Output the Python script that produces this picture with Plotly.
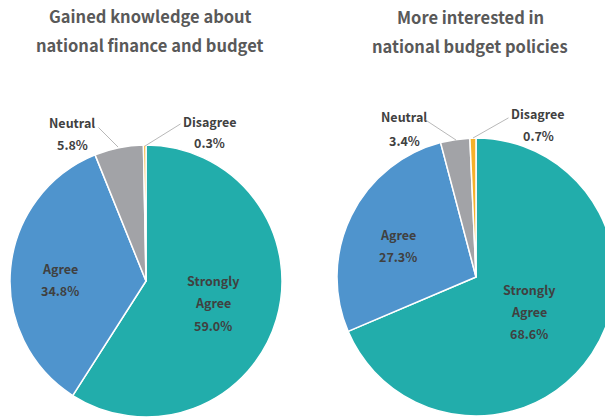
import plotly.graph_objects as go

W, H = 620, 418

categories = ["Strongly Agree", "Agree", "Neutral", "Disagree"]
left_values = [59.0, 34.8, 5.8, 0.3]
right_values = [68.6, 27.3, 3.4, 0.7]
left_title = ["Gained knowledge about", "national finance and budget"]
right_title = ["More interested in", "national budget policies"]
colors = ["#22ADAB", "#4F94CD", "#A2A3A7", "#F6B12A"]

FONT = "Noto Sans CJK KR"
TXT = "#404040"
TITLE_C = "#595959"


def px(x):
    return x / W


def py(y):
    return 1 - y / H


def dom(cx, cy, r):
    return dict(x=[px(cx - r), px(cx + r)], y=[py(cy + r), py(cy - r)])


fig = go.Figure()
for vals, (cx, cy, r) in [(left_values, (146, 281, 136)), (right_values, (476, 277, 139))]:
    fig.add_trace(go.Pie(
        labels=categories, values=vals, sort=False, direction="clockwise",
        rotation=0, textinfo="none", hoverinfo="label+percent",
        marker=dict(colors=colors, line=dict(color="white", width=1.5)),
        domain=dom(cx, cy, r), showlegend=False,
    ))

ann = []


def text(x, y, s, size=12.5, color=TXT):
    ann.append(dict(x=px(x), y=py(y), xref="paper", yref="paper", text="<b>%s</b>" % s,
                    showarrow=False, xanchor="center", yanchor="middle",
                    font=dict(family=FONT, size=size, color=color)))


def leader(x0, y0, x1, y1):
    ann.append(dict(x=px(x1), y=py(y1), ax=x0 - x1, ay=y0 - y1, xref="paper", yref="paper",
                    axref="pixel", ayref="pixel", text="", showarrow=True, arrowhead=0,
                    arrowwidth=0.8, arrowcolor="#A6A6A6", standoff=0, startstandoff=0))


# titles
text(150, 16, left_title[0], 16.5, TITLE_C)
text(150, 45, left_title[1], 16.5, TITLE_C)
text(470, 17, right_title[0], 16.5, TITLE_C)
text(470, 46, right_title[1], 16.5, TITLE_C)

# left pie labels
text(72, 122, "Neutral")
text(72, 144, f"{left_values[2]:.1f}%")
leader(97, 126, 118, 147)
text(210, 121, "Disagree")
text(210, 143, f"{left_values[3]:.1f}%")
leader(182, 123, 145, 146)
text(60, 268, "Agree")
text(60, 290, f"{left_values[1]:.1f}%")
text(213, 280, "Strongly")
text(213, 302, "Agree")
text(213, 325, f"{left_values[0]:.1f}%")

# right pie labels
text(404, 117, "Neutral")
text(404, 140, f"{right_values[2]:.1f}%")
leader(424, 119, 456, 140)
text(538, 114, "Disagree")
text(538, 136, f"{right_values[3]:.1f}%")
leader(510, 117, 473, 138)
text(398, 234, "Agree")
text(398, 256, f"{right_values[1]:.1f}%")
text(529, 289, "Strongly")
text(529, 311, "Agree")
text(529, 333, f"{right_values[0]:.1f}%")

fig.update_layout(
    width=W, height=H, margin=dict(l=0, r=0, t=0, b=0),
    paper_bgcolor="white", plot_bgcolor="white",
    annotations=ann,
)

fig.write_html("out.html", config={"displayModeBar": False},
               post_script="document.body.style.margin='0';document.body.style.overflow='hidden';document.documentElement.style.overflow='hidden';")
